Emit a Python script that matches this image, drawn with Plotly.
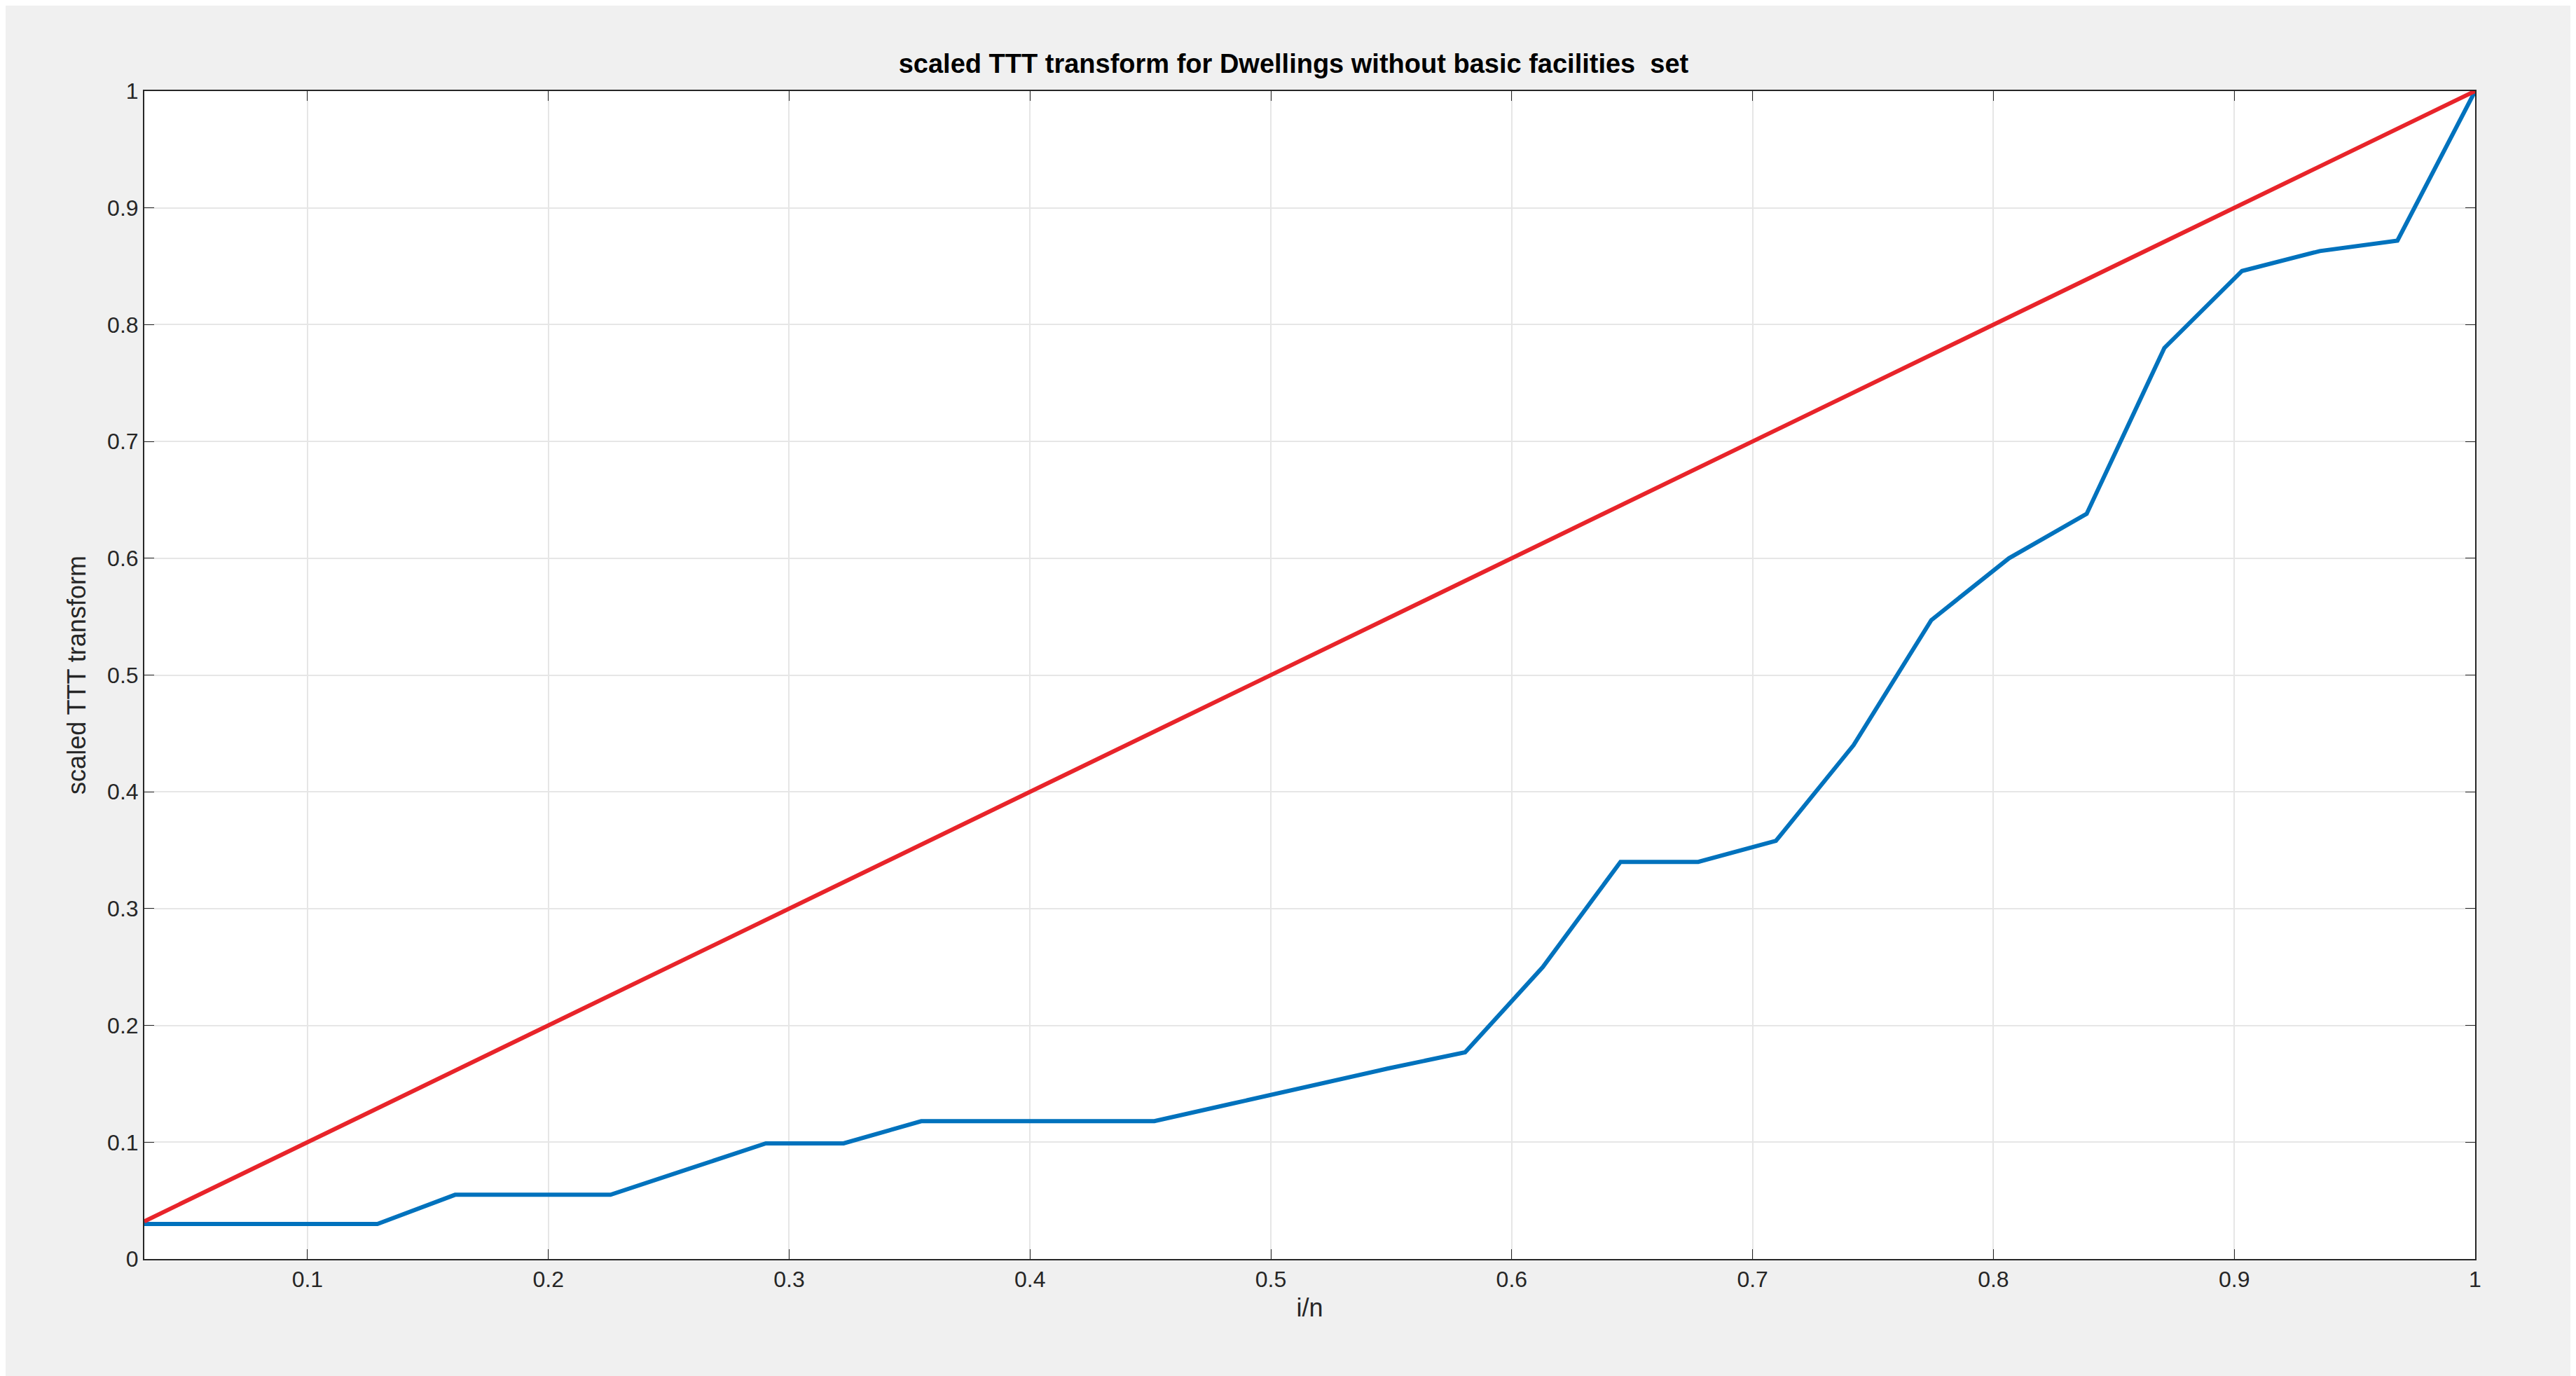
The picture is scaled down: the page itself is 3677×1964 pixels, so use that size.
import plotly.graph_objects as go

n = 31
idx = list(range(1, 32))
x_vals = [i / n for i in idx]
ttt = [0.030, 0.030, 0.030, 0.030, 0.055, 0.055, 0.055, 0.077, 0.099, 0.099,
       0.118, 0.118, 0.118, 0.118, 0.133, 0.148, 0.163, 0.177, 0.250, 0.340,
       0.340, 0.358, 0.440, 0.547, 0.600, 0.638, 0.780, 0.846, 0.863, 0.872, 1.000]
ref_x = [1 / n, 1.0]
ref_y = [1 / n, 1.0]

xticks = [0.1, 0.2, 0.3, 0.4, 0.5, 0.6, 0.7, 0.8, 0.9, 1]
yticks = [0, 0.1, 0.2, 0.3, 0.4, 0.5, 0.6, 0.7, 0.8, 0.9, 1]

fig = go.Figure()
fig.add_trace(go.Scatter(x=x_vals, y=ttt, mode="lines",
                         line=dict(color="#0072BD", width=6), showlegend=False))
fig.add_trace(go.Scatter(x=ref_x, y=ref_y, mode="lines",
                         line=dict(color="#E8242A", width=6), showlegend=False))

axis_common = dict(showgrid=True, gridcolor="#e6e6e6", gridwidth=2,
                   showline=True, linecolor="#262626", linewidth=2, mirror="ticks",
                   ticks="inside", ticklen=14, tickcolor="#262626",
                   tickfont=dict(family="Liberation Sans, Arial", size=32, color="#262626"),
                   zeroline=False)
fig.update_xaxes(range=[1 / n, 1], tickvals=xticks, ticktext=[str(v) for v in xticks],
                 title=dict(text="i/n", font=dict(family="Liberation Sans, Arial", size=36, color="#262626"), standoff=10),
                 **axis_common)
fig.update_yaxes(range=[0, 1], tickvals=yticks, ticktext=[str(v) for v in yticks],
                 title=dict(text="scaled TTT transform", font=dict(family="Liberation Sans, Arial", size=36, color="#262626"), standoff=20),
                 **axis_common)
fig.update_layout(
    width=3677, height=1964,
    paper_bgcolor="#f0f0f0", plot_bgcolor="white",
    margin=dict(l=198, r=152, t=122, b=175),
    title=dict(text="<b>scaled TTT transform for Dwellings without basic facilities  set</b>",
               x=0.5, xanchor="center", y=0.958, yanchor="middle",
               font=dict(family="Liberation Sans, Arial", size=38, color="#000000")),
)
fig.write_html("out.html")
